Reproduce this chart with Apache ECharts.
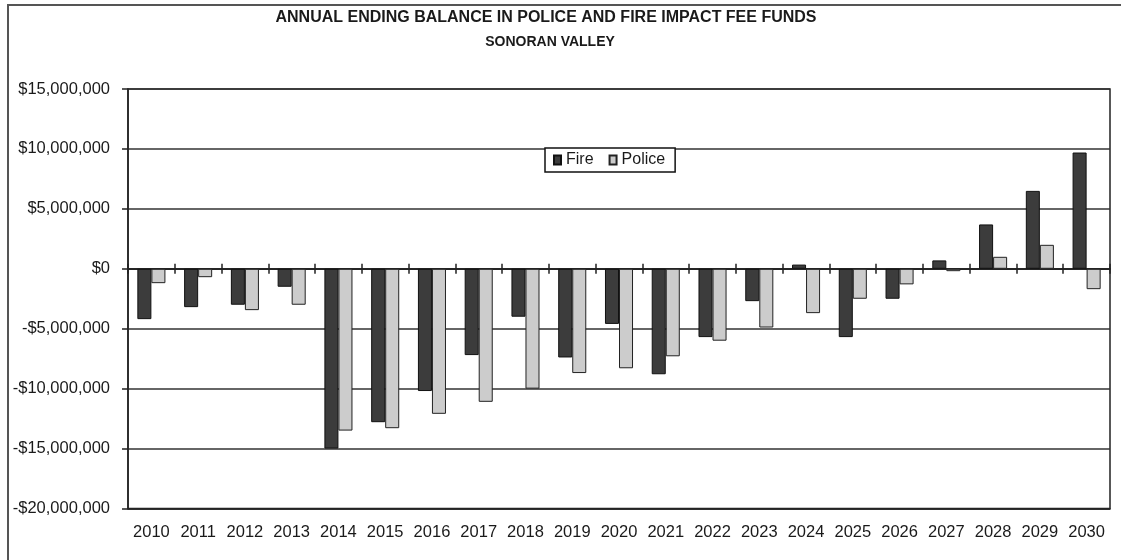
<!DOCTYPE html>
<html>
<head>
<meta charset="utf-8">
<script src="https://cdn.jsdelivr.net/npm/echarts@6/dist/echarts.min.js"></script>
<style>
html,body{margin:0;padding:0;background:#fff;}
#chart{width:1121px;height:560px;}
</style>
</head>
<body>
<div id="chart"></div>
<script>
var titleLine1 = 'ANNUAL ENDING BALANCE IN POLICE AND FIRE IMPACT FEE FUNDS';
var titleLine2 = 'SONORAN VALLEY';
var years = ['2010','2011','2012','2013','2014','2015','2016','2017','2018','2019','2020',
             '2021','2022','2023','2024','2025','2026','2027','2028','2029','2030'];
var fire = [-4200000,-3200000,-3000000,-1500000,-15000000,-12800000,-10200000,-7200000,-4000000,-7400000,-4600000,
            -8800000,-5700000,-2700000,350000,-5700000,-2500000,700000,3700000,6500000,9700000];
var police = [-1200000,-700000,-3450000,-3000000,-13500000,-13300000,-12100000,-11100000,-10000000,-8700000,-8300000,
              -7300000,-6000000,-4900000,-3700000,-2500000,-1300000,-200000,1000000,2000000,-1700000];
var yMin = -20000000, yMax = 15000000, yStep = 5000000;

var FONT = '"Liberation Sans", Arial, sans-serif';
function money(v){
  return (v < 0 ? '-' : '') + '$' + Math.abs(v).toLocaleString('en-US');
}

var chart = echarts.init(document.getElementById('chart'), null, {renderer:'canvas'});
var gridRect = {left:128, right:11, top:89, bottom:51.5};
chart.setOption({
  animation:false,
  backgroundColor:'#ffffff',
  textStyle:{fontFamily:FONT},
  graphic:[
    {type:'rect', shape:{x:8, y:5, width:1300, height:700}, style:{fill:null, stroke:'#555', lineWidth:2}, silent:true},
    {type:'text', x:546, y:18, style:{text:titleLine1, fontFamily:FONT, fontWeight:'bold', fontSize:16, fill:'#1a1a1a', textAlign:'center', textVerticalAlign:'middle'}},
    {type:'text', x:550, y:42, style:{text:titleLine2, fontFamily:FONT, fontWeight:'bold', fontSize:14, fill:'#1a1a1a', textAlign:'center', textVerticalAlign:'middle'}}
  ],
  legend:{
    data:['Fire','Police'],
    left:545, top:148,
    orient:'horizontal',
    padding:[4,10,4,8],
    itemWidth:7, itemHeight:9, itemGap:15,
    borderColor:'#111', borderWidth:1.5, backgroundColor:'#fff',
    icon:'rect',
    textStyle:{fontFamily:FONT, fontSize:16, color:'#1a1a1a'}
  },
  grid:[
    Object.assign({show:true, borderColor:'#222', borderWidth:1.5, backgroundColor:'transparent'}, gridRect),
    Object.assign({show:false}, gridRect)
  ],
  xAxis:[
    {type:'category', data:years, gridIndex:0, position:'bottom',
      axisLine:{show:true, onZero:false, lineStyle:{color:'#222', width:1.5}},
      axisTick:{show:false},
      axisLabel:{fontFamily:FONT, fontSize:16.5, color:'#1a1a1a', margin:15, interval:0},
      splitLine:{show:false}},
    {type:'category', data:years, gridIndex:0, position:'top',
      axisLine:{show:true, onZero:true, lineStyle:{color:'#222', width:1.5}},
      axisTick:{show:true, length:5, lineStyle:{color:'#222', width:1.5}},
      axisLabel:{show:false},
      splitLine:{show:false}},
    {type:'category', data:years, gridIndex:1, position:'bottom',
      axisLine:{show:true, onZero:true, lineStyle:{color:'#222', width:1.5}},
      axisTick:{show:true, length:5, lineStyle:{color:'#222', width:1.5}},
      axisLabel:{show:false},
      splitLine:{show:false}}
  ],
  yAxis:[
    {type:'value', gridIndex:0, min:yMin, max:yMax, interval:yStep,
      axisLine:{show:true, lineStyle:{color:'#222', width:1.5}},
      axisTick:{show:true, length:6, lineStyle:{color:'#222', width:1.5}},
      axisLabel:{fontFamily:FONT, fontSize:16.5, color:'#1a1a1a', margin:18, formatter:money},
      splitLine:{show:true, lineStyle:{color:'#333', width:1.5}}},
    {type:'value', gridIndex:1, min:yMin, max:yMax, interval:yStep,
      axisLine:{show:false}, axisTick:{show:false}, axisLabel:{show:false}, splitLine:{show:false}}
  ],
  series:[
    {name:'Fire', type:'bar', xAxisIndex:0, yAxisIndex:0, data:fire, barGap:'0%', barCategoryGap:'40%',
     itemStyle:{color:'#3c3c3c', borderColor:'#111', borderWidth:1}},
    {name:'Police', type:'bar', xAxisIndex:0, yAxisIndex:0, data:police, barGap:'0%', barCategoryGap:'40%',
     itemStyle:{color:'#cccccc', borderColor:'#222', borderWidth:1}}
  ]
});
</script>
</body>
</html>
